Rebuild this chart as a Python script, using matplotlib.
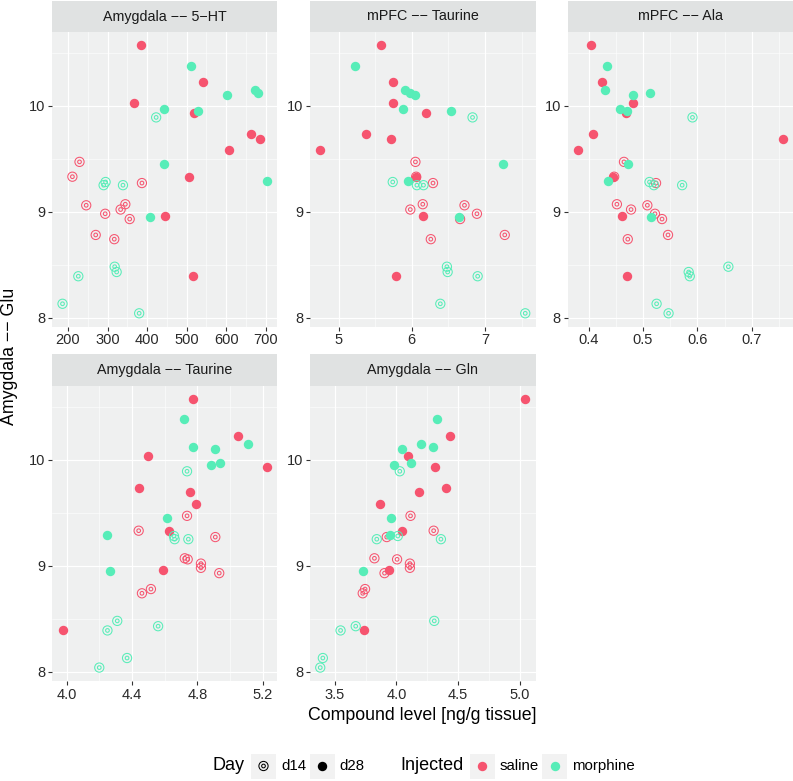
import matplotlib.pyplot as plt
import numpy as np
from matplotlib.ticker import MultipleLocator, AutoMinorLocator
from matplotlib.patches import Rectangle

plt.rcParams['font.family'] = ['Liberation Sans', 'DejaVu Sans']

# animals ordered: saline d28, saline d14, morphine d28, morphine d14
injected = ['saline'] * 20 + ['morphine'] * 18
day = ['d28'] * 10 + ['d14'] * 10 + ['d28'] * 9 + ['d14'] * 9

# Amygdala -- Glu (shared y)
glu = [10.57, 10.22, 10.03, 9.93, 9.73, 9.69, 9.58, 9.33, 8.96, 8.39,
       9.47, 9.33, 9.27, 9.07, 9.06, 9.02, 8.98, 8.93, 8.78, 8.74,
       10.38, 10.15, 10.12, 10.10, 9.97, 9.95, 9.45, 9.29, 8.95,
       9.89, 9.28, 9.25, 9.25, 8.48, 8.43, 8.39, 8.13, 8.04]

amy_5ht = [385, 541, 367, 519, 662, 685, 607, 506, 445, 515,
           229, 211, 387, 345, 246, 333, 294, 356, 270, 317,
           511, 672, 682, 603, 442, 530, 444, 703, 407,
           423, 295, 290, 339, 318, 323, 226, 186, 380]

mpfc_taurine = [5.58, 5.75, 5.74, 6.20, 5.37, 5.71, 4.75, 6.06, 6.15, 5.79,
                6.05, 6.06, 6.29, 6.15, 6.72, 5.98, 6.89, 6.66, 7.27, 6.26,
                5.22, 5.91, 5.98, 6.05, 5.88, 6.53, 7.25, 5.95, 6.64,
                6.83, 5.74, 6.07, 6.16, 6.48, 6.49, 6.90, 6.39, 7.55]

mpfc_ala = [0.405, 0.425, 0.481, 0.469, 0.408, 0.757, 0.380, 0.445, 0.462, 0.470,
            0.465, 0.447, 0.524, 0.452, 0.508, 0.478, 0.522, 0.535, 0.546, 0.472,
            0.433, 0.431, 0.513, 0.481, 0.457, 0.471, 0.473, 0.436, 0.514,
            0.591, 0.512, 0.572, 0.520, 0.657, 0.584, 0.586, 0.525, 0.547]

amy_taurine = [4.773, 5.047, 4.496, 5.225, 4.441, 4.753, 4.794, 4.628, 4.590, 3.975,
               4.737, 4.441, 4.910, 4.723, 4.741, 4.822, 4.822, 4.934, 4.516, 4.461,
               4.718, 5.108, 4.773, 4.910, 4.941, 4.884, 4.612, 4.249, 4.263,
               4.737, 4.657, 4.661, 4.745, 4.31, 4.56, 4.25, 4.37, 4.20]

amy_gln = [5.046, 4.435, 4.093, 4.310, 4.402, 4.185, 3.870, 4.049, 3.938, 3.736,
           4.114, 4.302, 3.921, 3.821, 4.005, 4.109, 4.109, 3.903, 3.745, 3.726,
           4.329, 4.201, 4.299, 4.049, 4.117, 3.984, 3.957, 3.948, 3.729,
           4.027, 4.011, 3.840, 4.361, 4.307, 3.669, 3.546, 3.402, 3.381]

panel_titles = ['Amygdala −− 5−HT', 'mPFC −− Taurine', 'mPFC −− Ala',
                'Amygdala −− Taurine', 'Amygdala −− Gln']
panel_x = [amy_5ht, mpfc_taurine, mpfc_ala, amy_taurine, amy_gln]
x_steps = [100, 1, 0.1, 0.4, 0.5]
y_ticks = [8, 9, 10]

colors = {'saline': '#F6546F', 'morphine': '#57EDB8'}

W, H = 793, 781
fig = plt.figure(figsize=(W / 100, H / 100), dpi=100)

cols = [(52.3, 277), (310, 535.5), (567.5, 793)]
rows = [(1, 32, 326.7), (354.3, 385.7, 681)]
slots = [(0, 0), (0, 1), (0, 2), (1, 0), (1, 1)]


def px_axes(x0, y0, x1, y1):
    return fig.add_axes([x0 / W, 1 - y1 / H, (x1 - x0) / W, (y1 - y0) / H])


y = np.array(glu)
yr = y.max() - y.min()
ylim = (y.min() - 0.05 * yr, y.max() + 0.05 * yr)

for title, xs, step, (r, c) in zip(panel_titles, panel_x, x_steps, slots):
    x0, x1 = cols[c]
    s0, p0, p1 = rows[r]
    ax = px_axes(x0, p0, x1, p1)
    ax.set_facecolor('#EFF0F0')
    for sp in ax.spines.values():
        sp.set_visible(False)
    x = np.array(xs)
    xr = x.max() - x.min()
    ax.set_xlim(x.min() - 0.05 * xr, x.max() + 0.05 * xr)
    ax.set_ylim(*ylim)
    ax.xaxis.set_major_locator(MultipleLocator(step))
    ax.xaxis.set_minor_locator(AutoMinorLocator(2))
    ax.set_yticks(y_ticks)
    ax.yaxis.set_minor_locator(AutoMinorLocator(2))
    if step == 0.4:
        ax.xaxis.set_major_formatter(lambda v, p: f'{v:.1f}')
    ax.grid(which='major', color='white', lw=0.85)
    ax.grid(which='minor', color='white', lw=0.4)
    ax.set_axisbelow(True)
    ax.tick_params(which='major', length=2.8, width=0.8, color='#333333',
                   labelsize=10.5, labelcolor='#2A2A2A', pad=2)
    ax.tick_params(which='minor', length=0)

    for i in range(len(xs)):
        col = colors[injected[i]]
        if day[i] == 'd28':
            ax.scatter(xs[i], glu[i], s=46, color=col, lw=0, zorder=3)
        else:
            ax.scatter(xs[i], glu[i], s=44, facecolor='none', edgecolor=col,
                       lw=0.75, zorder=3)
            ax.scatter(xs[i], glu[i], s=7, facecolor='none', edgecolor=col,
                       lw=0.75, zorder=3)

    sax = px_axes(x0, s0, x1, p0)
    sax.set_facecolor('#E0E2E2')
    sax.set_xticks([])
    sax.set_yticks([])
    for sp in sax.spines.values():
        sp.set_visible(False)
    sax.text(0.5, 0.5, title, ha='center', va='center', fontsize=10.3,
             color='#1A1A1A', transform=sax.transAxes)

fig.text(10 / W, 1 - 356.5 / H, 'Amygdala −− Glu', rotation=90,
         ha='center', va='center', fontsize=12.8)
fig.text(422.5 / W, 1 - 716 / H, 'Compound level [ng/g tissue]',
         ha='center', va='center', fontsize=12.8)

# legend drawn in pixel space
lg = fig.add_axes([0, 0, 1, 1], zorder=-1)
lg.set_xlim(0, W)
lg.set_ylim(H, 0)
lg.axis('off')
ly = 766
lg.text(212, ly, 'Day', fontsize=13, va='center', ha='left')
lg.text(400, ly, 'Injected', fontsize=13, va='center', ha='left')
keys = [(251, 'd14', 'black', 'd14'), (309.5, 'd28', 'black', 'd28'),
        (469.5, 'd28', colors['saline'], 'saline'),
        (542, 'd28', colors['morphine'], 'morphine')]
for kx, kday, kcol, klab in keys:
    lg.add_patch(Rectangle((kx, ly - 12.5), 25, 25, color='#F2F2F2', lw=0))
    cx = kx + 12.5
    if kday == 'd28':
        lg.scatter(cx, ly, s=46, color=kcol, lw=0)
    else:
        lg.scatter(cx, ly, s=44, facecolor='none', edgecolor=kcol, lw=0.75)
        lg.scatter(cx, ly, s=7, facecolor='none', edgecolor=kcol, lw=0.75)
    lg.text(kx + 30, ly, klab, fontsize=10.8, va='center', ha='left')

fig.savefig('out.png', dpi=100)
